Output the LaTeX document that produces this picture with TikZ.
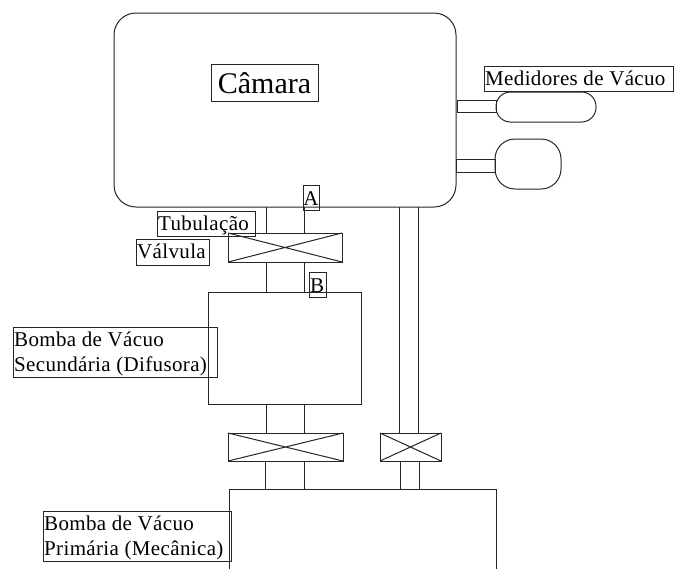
\documentclass[tikz,border=0pt]{standalone}
\usepackage{fontspec}
\setmainfont{Liberation Serif}
\newfontfamily\lbfont[LetterSpace=1.7]{Liberation Serif}
\usetikzlibrary{calc}
\newcommand{\bx}[6]{\node[#6,minimum width={(#4-#2)*1pt},minimum height={(#5-#3)*1pt}] (#1) at ({(#2+#4)/2},{(#3+#5)/2}) {};}
\tikzset{
  x=1pt,y=-1pt,
  ln/.style={draw=black!85,line width=1pt},
  part/.style={ln,rectangle,inner sep=0pt,outer sep=0pt},
  cham/.style={part,rounded corners=22pt},
  pill/.style={part,rounded corners=14.5pt},
  blob/.style={part,rounded corners=20pt},
  lab/.style={draw=black!85,line width=1pt,rectangle,inner sep=0pt,outer sep=0pt},
  txt/.style={font=\lbfont\fontsize{21}{25}\selectfont,inner sep=0pt,anchor=base west},
  txc/.style={font=\lbfont\fontsize{21}{25}\selectfont,inner sep=0pt,anchor=base},
  tube/.style={ln}
}
\begin{document}
\begin{tikzpicture}
\useasboundingbox (0,0) rectangle (674,568);
\clip (0,0) rectangle (674,568);
\bx{cam}{114}{13}{456}{207}{cham}
\bx{g1}{496}{92}{596}{122}{pill}
\bx{g2}{495}{139}{561}{189}{blob}
\bx{g1t}{457}{100}{496}{112}{part}
\bx{g2t}{456}{159}{495}{172}{part}
\bx{v1}{228}{233}{342}{262}{part}
\bx{sec}{208}{292}{361}{404}{part}
\bx{v2}{228}{433}{343}{461}{part}
\bx{v3}{380}{433}{441}{461}{part}
\bx{pri}{229}{489}{496}{600}{part}
\draw[ln] (v1.north west)--(v1.south east) (v1.north east)--(v1.south west);
\draw[ln] (v2.north west)--(v2.south east) (v2.north east)--(v2.south west);
\draw[ln] (v3.north west)--(v3.south east) (v3.north east)--(v3.south west);
\draw[tube] (266,0 |- cam.south)--(266,0 |- v1.north);
\draw[tube] (304,0 |- cam.south)--(304,0 |- v1.north);
\draw[tube] (266,0 |- v1.south)--(266,0 |- sec.north);
\draw[tube] (304,0 |- v1.south)--(304,0 |- sec.north);
\draw[tube] (266,0 |- sec.south)--(266,0 |- v2.north);
\draw[tube] (304,0 |- sec.south)--(304,0 |- v2.north);
\draw[tube] (265,0 |- v2.south)--(265,0 |- pri.north);
\draw[tube] (304.5,0 |- v2.south)--(304.5,0 |- pri.north);
\draw[tube] (399,0 |- cam.south)--(399,0 |- v3.north);
\draw[tube] (418,0 |- cam.south)--(418,0 |- v3.north);
\draw[tube] (400,0 |- v3.south)--(400,0 |- pri.north);
\draw[tube] (419,0 |- v3.south)--(419,0 |- pri.north);
% labels
\bx{lcam}{211}{64}{318}{101}{lab}
\node[font=\fontsize{30}{34}\selectfont,inner sep=0pt] (tcam) at (264.5,83) {Câmara};
\bx{lmed}{484}{66}{673}{91}{lab}
\node[txt] (tmed) at (485,85) {Medidores de Vácuo};
\bx{la}{303}{185}{319}{210}{lab}
\node[txc] (ta) at (311,205) {A};
\bx{lb}{309}{272}{326}{297}{lab}
\node[txc] (tb) at (317,292) {B};
\bx{ltub}{157}{211}{255}{236}{lab}
\node[txt] (ttub) at (158,230) {Tubulação};
\bx{lval}{136}{239}{209}{265}{lab}
\node[txt] (tval) at (137,258) {Válvula};
\bx{lsec}{13}{327}{217}{377}{lab}
\node[txt] (tsec1) at (14,346) {Bomba de Vácuo};
\node[txt] (tsec2) at (14,371) {Secundária (Difusora)};
\bx{lpri}{43.5}{511}{231}{561}{lab}
\node[txt] (tpri1) at (44,530) {Bomba de Vácuo};
\node[txt] (tpri2) at (44,555) {Primária (Mecânica)};
\end{tikzpicture}
\end{document}
